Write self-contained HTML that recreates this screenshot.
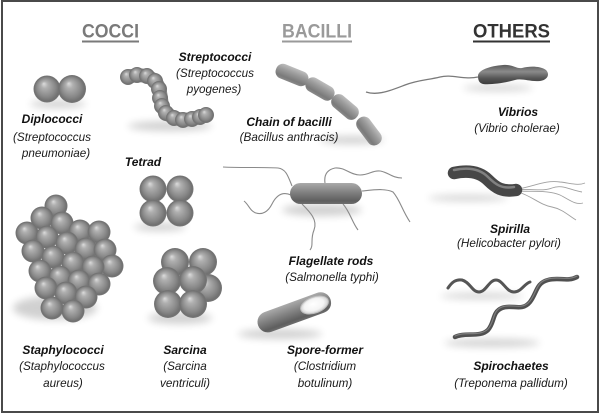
<!DOCTYPE html>
<html><head><meta charset="utf-8"><style>html,body{margin:0;padding:0;background:#fff}svg{display:block}</style></head>
<body>
<svg width="600" height="414" viewBox="0 0 600 414" xmlns="http://www.w3.org/2000/svg" font-family="'Liberation Sans', sans-serif">
<defs>
  <filter id="bl" x="-50%" y="-50%" width="200%" height="200%"><feGaussianBlur stdDeviation="4"/></filter>
  <radialGradient id="sg" cx="0.5" cy="0.5" r="0.5" fx="0.38" fy="0.3">
    <stop offset="0" stop-color="#dcdcdc"/>
    <stop offset="0.25" stop-color="#b0b0b0"/>
    <stop offset="0.7" stop-color="#888"/>
    <stop offset="0.92" stop-color="#707070"/>
    <stop offset="1" stop-color="#787878"/>
  </radialGradient>
  <linearGradient id="rg" x1="0" y1="0" x2="0" y2="1">
    <stop offset="0" stop-color="#bdbdbd"/>
    <stop offset="0.35" stop-color="#9c9c9c"/>
    <stop offset="0.8" stop-color="#7a7a7a"/>
    <stop offset="1" stop-color="#8a8a8a"/>
  </linearGradient>
  <linearGradient id="rg2" x1="0" y1="0" x2="0" y2="1">
    <stop offset="0" stop-color="#aaaaaa"/>
    <stop offset="0.4" stop-color="#858585"/>
    <stop offset="0.85" stop-color="#5e5e5e"/>
    <stop offset="1" stop-color="#6e6e6e"/>
  </linearGradient>
  <linearGradient id="dg" x1="0" y1="0" x2="0" y2="1">
    <stop offset="0" stop-color="#5a5a5a"/>
    <stop offset="0.35" stop-color="#8a8a8a"/>
    <stop offset="0.7" stop-color="#555"/>
    <stop offset="1" stop-color="#3c3c3c"/>
  </linearGradient>
  <radialGradient id="spg" cx="0.5" cy="0.5" r="0.5" fx="0.45" fy="0.4">
    <stop offset="0" stop-color="#ffffff"/>
    <stop offset="0.7" stop-color="#f4f4f4"/>
    <stop offset="1" stop-color="#d0d0d0"/>
  </radialGradient>
</defs>

<rect x="0" y="0" width="600" height="414" fill="#fff"/>
<rect x="2" y="1" width="596" height="411" fill="none" stroke="#4a4a4a" stroke-width="2"/>

<!-- Headings -->
<text x="82" y="37.5" font-size="19" font-weight="bold" fill="#7a7a7a" textLength="57" lengthAdjust="spacingAndGlyphs">COCCI</text>
<rect x="82" y="40.5" width="57" height="2" fill="#7a7a7a"/>
<text x="282" y="37.5" font-size="19" font-weight="bold" fill="#9a9a9a" textLength="70" lengthAdjust="spacingAndGlyphs">BACILLI</text>
<rect x="282" y="40.5" width="70" height="2" fill="#9a9a9a"/>
<text x="473" y="37.5" font-size="19" font-weight="bold" fill="#333" textLength="77" lengthAdjust="spacingAndGlyphs">OTHERS</text>
<rect x="473" y="40.5" width="77" height="2" fill="#333"/>

<!-- Shadows -->
<g fill="#000" opacity="0.18" filter="url(#bl)">
  <ellipse cx="58" cy="104" rx="28" ry="4"/>
  <ellipse cx="170" cy="126" rx="42" ry="5"/>
  <ellipse cx="352" cy="140" rx="32" ry="4"/>
  <ellipse cx="498" cy="88" rx="35" ry="3"/>
  <ellipse cx="322" cy="210" rx="40" ry="6"/>
  <ellipse cx="468" cy="198" rx="40" ry="3"/>
  <ellipse cx="280" cy="334" rx="42" ry="5"/>
  <ellipse cx="482" cy="296" rx="42" ry="3"/>
  <ellipse cx="492" cy="343" rx="48" ry="4"/>
  <ellipse cx="160" cy="227" rx="26" ry="4"/>
  <ellipse cx="55" cy="308" rx="42" ry="12"/>
  <ellipse cx="180" cy="318" rx="32" ry="6"/>
</g>

<!-- Diplococci -->
<circle cx="47" cy="89" r="13.5" fill="url(#sg)"/>
<circle cx="72" cy="89" r="14" fill="url(#sg)"/>

<!-- Streptococci chain -->
<path d="M128,77 C140,73 152,76 157,84 C162,92 160,104 164,110 C170,118 180,121 192,119 L206,115" fill="none" stroke="#8a8a8a" stroke-width="14" stroke-linecap="round"/>
<g fill="url(#sg)">
  <circle cx="128" cy="77" r="8"/>
  <circle cx="137" cy="75" r="8"/>
  <circle cx="147" cy="76" r="8"/>
  <circle cx="155" cy="81" r="8"/>
  <circle cx="159" cy="89" r="8"/>
  <circle cx="160" cy="98" r="8"/>
  <circle cx="162" cy="106" r="8"/>
  <circle cx="166" cy="113" r="8"/>
  <circle cx="174" cy="118" r="8"/>
  <circle cx="183" cy="120" r="8"/>
  <circle cx="192" cy="119" r="8"/>
  <circle cx="200" cy="117" r="8"/>
  <circle cx="206" cy="115" r="8"/>
</g>

<!-- Tetrad -->
<g fill="url(#sg)">
  <circle cx="153" cy="189" r="13.5"/>
  <circle cx="180" cy="189" r="13.5"/>
  <circle cx="153" cy="213" r="13.5"/>
  <circle cx="180" cy="213" r="13.5"/>
</g>

<!-- Staphylococci -->
<g fill="url(#sg)">
  <circle cx="56" cy="206" r="11.5"/>
  <circle cx="42" cy="218" r="11.5"/>
  <circle cx="62" cy="223" r="11.5"/>
  <circle cx="80" cy="231" r="11.5"/>
  <circle cx="99" cy="232" r="11.5"/>
  <circle cx="27" cy="233" r="11.5"/>
  <circle cx="47" cy="237" r="11.5"/>
  <circle cx="67" cy="243" r="11.5"/>
  <circle cx="86" cy="249" r="11.5"/>
  <circle cx="105" cy="250" r="11.5"/>
  <circle cx="33" cy="251" r="11.5"/>
  <circle cx="53" cy="257" r="11.5"/>
  <circle cx="73" cy="263" r="11.5"/>
  <circle cx="112" cy="266" r="11.5"/>
  <circle cx="93" cy="267" r="11.5"/>
  <circle cx="40" cy="271" r="11.5"/>
  <circle cx="60" cy="277" r="11.5"/>
  <circle cx="79" cy="281" r="11.5"/>
  <circle cx="99" cy="284" r="11.5"/>
  <circle cx="46" cy="288" r="11.5"/>
  <circle cx="66" cy="293" r="11.5"/>
  <circle cx="86" cy="297" r="11.5"/>
  <circle cx="52" cy="308" r="11.5"/>
  <circle cx="73" cy="311" r="11.5"/>
</g>

<!-- Sarcina -->
<g fill="url(#sg)">
  <circle cx="175" cy="262" r="14"/>
  <circle cx="203" cy="262" r="14"/>
  <circle cx="208" cy="288" r="14"/>
  <circle cx="167" cy="281" r="14"/>
  <circle cx="193" cy="280" r="14"/>
  <circle cx="168" cy="304" r="14"/>
  <circle cx="193" cy="304" r="14"/>
</g>

<!-- Chain of bacilli -->
<g fill="url(#rg)">
  <rect x="275" y="67.5" width="34" height="15" rx="7" transform="rotate(22 292 75)"/>
  <rect x="304.5" y="81.5" width="31" height="15" rx="7" transform="rotate(30 320 89)"/>
  <rect x="329.5" y="99.5" width="31" height="15" rx="7" transform="rotate(40 345 107)"/>
  <rect x="353" y="123.5" width="32" height="15" rx="7" transform="rotate(53 369 131)"/>
</g>

<!-- Vibrio -->
<path d="M366,92 C378,96 392,90 405,85 C418,80 428,80 440,77 C452,74 464,80 478,77" fill="none" stroke="#7a7a7a" stroke-width="1.3"/>
<path d="M478,76 C478,70 490,66 503,65 C512,64 516,69 522,68 C530,66 540,66 546,70 C550,74 548,80 540,81 C530,82 522,78 515,80 C505,83 490,85 483,84 C479,83 478,80 478,76 Z" fill="url(#dg)"/>

<!-- Flagellate rod -->
<g fill="none" stroke="#8a8a8a" stroke-width="1.1">
  <path d="M292,186 C288,176 286,169 278,168 C260,167 240,168 223,167"/>
  <path d="M291,195 C282,191 276,196 272,204 C268,212 262,215 256,213 C250,211 249,205 244,201"/>
  <path d="M325,183 C324,176 326,170 335,168 C345,167 350,175 360,175 C370,175 372,170 380,171 C388,172 392,178 402,178"/>
  <path d="M362,191 C372,190 385,188 393,192 C400,200 402,210 410,222"/>
  <path d="M302,204 C310,212 318,220 314,230 C310,240 314,245 310,250"/>
  <path d="M343,204 C350,212 352,222 358,230"/>
</g>
<rect x="290" y="183" width="72" height="21" rx="10.5" fill="url(#rg2)"/>

<!-- Spirilla -->
<g fill="none" stroke="#a0a0a0" stroke-width="0.9">
  <path d="M518,189 C535,186 545,180 560,182 C570,183 578,186 585,183"/>
  <path d="M518,191 C535,192 548,190 560,195 C570,200 575,205 583,203"/>
  <path d="M518,192 C532,196 540,205 552,207 C562,209 568,215 576,220"/>
  <path d="M518,190 C530,188 542,192 552,188 C562,184 570,190 582,192"/>
</g>
<path d="M454,173 C468,170 480,172 488,180 C496,188 502,192 516,190" fill="none" stroke="#474747" stroke-width="12.5" stroke-linecap="round"/>
<path d="M454,170 C468,167 480,169 488,177 C496,185 502,189 514,187" fill="none" stroke="#9a9a9a" stroke-width="2.5" stroke-linecap="round" opacity="0.7"/>

<!-- Spore-former -->
<g transform="rotate(-20 294 313)">
  <rect x="256" y="302" width="77" height="21" rx="10.5" fill="url(#rg2)"/>
  <ellipse cx="316" cy="312.5" rx="14.5" ry="8" fill="url(#spg)" stroke="#bbb" stroke-width="1"/>
</g>

<!-- Spirochaetes -->
<path d="M448,288 C452,282 456,279 462,280 C470,282 472,292 479,292 C486,292 489,280 496,280 C503,280 506,292 514,292 C521,292 524,284 530,282" fill="none" stroke="#555" stroke-width="3" stroke-linecap="round"/>
<path d="M455,337 C465,332 480,338 488,330 C495,322 492,312 502,308 C512,304 522,312 530,302 C537,293 536,283 548,280 C558,277 568,282 577,277" fill="none" stroke="#505050" stroke-width="4.5" stroke-linecap="round"/>
<path d="M455,336 C465,331 480,337 488,329 C495,321 492,311 502,307 C512,303 522,311 530,301 C537,292 536,282 548,279 C558,276 568,281 577,276" fill="none" stroke="#8a8a8a" stroke-width="1.2" stroke-linecap="round" opacity="0.8"/>

<!-- Labels -->
<g text-anchor="middle" fill="#111" font-style="italic">
  <g font-weight="bold" font-size="12">
    <text x="52" y="123">Diplococci</text>
    <text x="215" y="61">Streptococci</text>
    <text x="143" y="166">Tetrad</text>
    <text x="289" y="126">Chain of bacilli</text>
    <text x="518" y="116">Vibrios</text>
    <text x="331" y="265">Flagellate rods</text>
    <text x="510" y="233">Spirilla</text>
    <text x="63" y="354">Staphylococci</text>
    <text x="185" y="354">Sarcina</text>
    <text x="325" y="354">Spore-former</text>
    <text x="511" y="370">Spirochaetes</text>
  </g>
  <g font-size="11.7" fill="#1a1a1a">
    <text x="52" y="141">(Streptococcus</text>
    <text x="56" y="157">pneumoniae)</text>
    <text x="215" y="77">(Streptococcus</text>
    <text x="214" y="93">pyogenes)</text>
    <text x="289" y="141">(Bacillus anthracis)</text>
    <text x="517" y="132">(Vibrio cholerae)</text>
    <text x="332" y="281">(Salmonella typhi)</text>
    <text x="509" y="247">(Helicobacter pylori)</text>
    <text x="62" y="370">(Staphylococcus</text>
    <text x="63" y="387">aureus)</text>
    <text x="185" y="370">(Sarcina</text>
    <text x="185" y="387">ventriculi)</text>
    <text x="325" y="370">(Clostridium</text>
    <text x="325" y="387">botulinum)</text>
    <text x="511" y="387">(Treponema pallidum)</text>
  </g>
</g>
</svg>
</body></html>
